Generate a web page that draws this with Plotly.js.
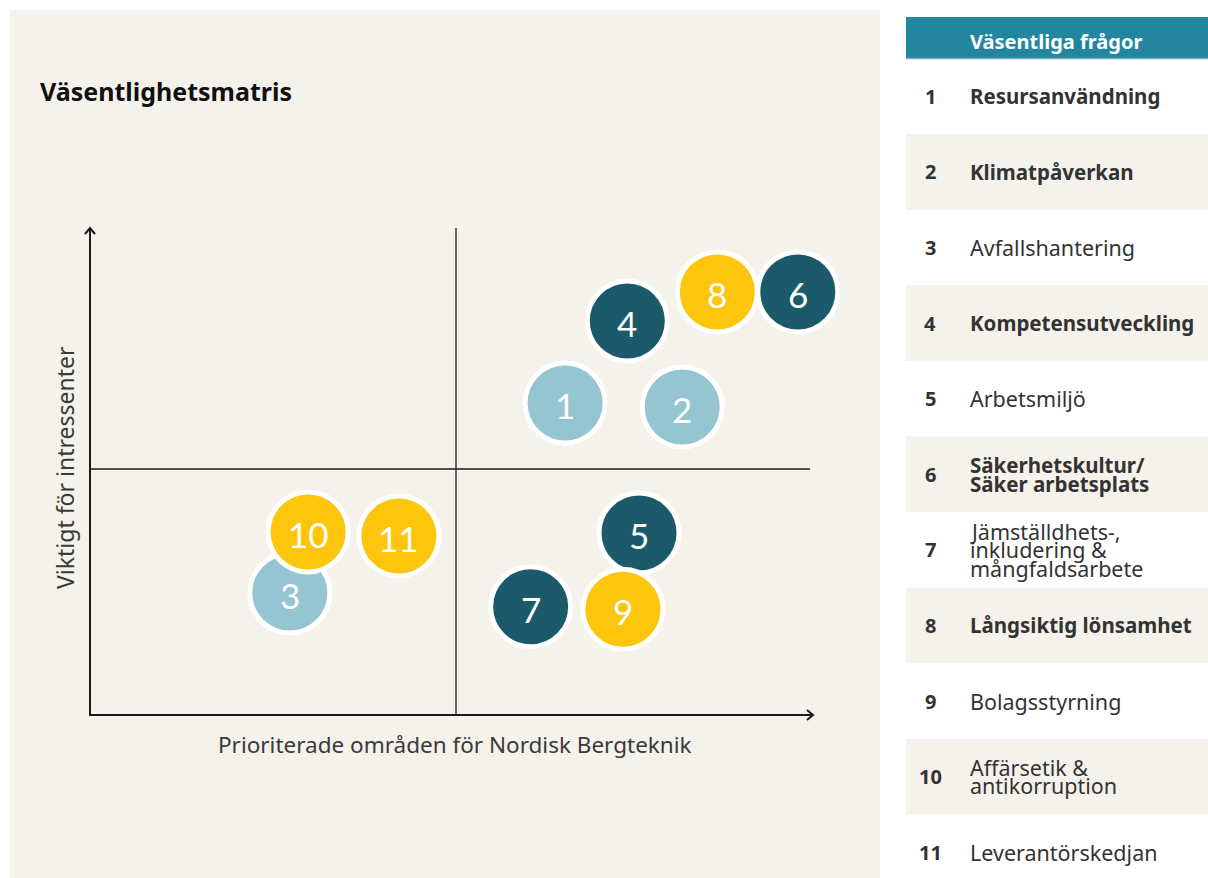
<!DOCTYPE html>
<html>
<head>
<meta charset="utf-8">
<script src="https://cdn.plot.ly/plotly-3.0.1.min.js"></script>
<style>
html,body{margin:0;padding:0;background:#fff;}
#chart{width:1208px;height:878px;}
</style>
</head>
<body>
<div id="chart"></div>
<script>
// ---- Data ----
const issueIds = ['1','2','3','4','5','6','7','8','9','10','11'];
const xValues = [6.49, 8.09, 2.73, 7.34, 7.50, 9.67, 6.02, 8.57, 7.28, 2.98, 4.22];
const yValues = [6.34, 6.26, 2.48, 8.01, 3.70, 8.60, 2.20, 8.60, 2.15, 3.72, 3.64];
const issueGroups = ['light','light','light','dark','dark','dark','dark','yellow','yellow','yellow','yellow'];

const tableNumbers = ['1','2','3','4','5','6','7','8','9','10','11'];
const tableLabels = [
  ['Resursanvändning'],
  ['Klimatpåverkan'],
  ['Avfallshantering'],
  ['Kompetensutveckling'],
  ['Arbetsmiljö'],
  ['Säkerhetskultur/','Säker arbetsplats'],
  ['Jämställdhets-,','inkludering &','mångfaldsarbete'],
  ['Långsiktig lönsamhet'],
  ['Bolagsstyrning'],
  ['Affärsetik &','antikorruption'],
  ['Leverantörskedjan']
];
const tableBold = [true,true,false,true,false,true,false,true,false,false,false];

const chartTitle = 'Väsentlighetsmatris';
const xTitle = 'Prioriterade områden för Nordisk Bergteknik';
const yTitle = 'Viktigt för intressenter';
const tableHeader = 'Väsentliga frågor';

// ---- Styles ----
const W = 1208, H = 878;
const groupColors = {light:'#94c5d1', dark:'#1c5a6b', yellow:'#fdc50c'};
const beige = '#f5f2ec';
const fx = p => p / W;          // pixel -> paper x
const fy = p => 1 - p / H;      // pixel -> paper y

// plot area in pixels
const PL = 90, PR = 822, PT = 223, PB = 715;

const traces = ['light','dark','yellow'].map(g => {
  const idx = issueIds.map((_, i) => i).filter(i => issueGroups[i] === g);
  return {
    type: 'scatter',
    mode: 'markers',
    x: idx.map(i => xValues[i]),
    y: idx.map(i => yValues[i]),
    marker: {size: 80, color: groupColors[g], line: {color: '#ffffff', width: 5}, opacity: 1},
    hoverinfo: 'skip',
    showlegend: false,
    cliponaxis: false
  };
});

const shapes = [];
const annotations = [];

// bubble labels (through the data axes)
issueIds.forEach((id, i) => {
  annotations.push({xref:'x', yref:'y', x:xValues[i], y:yValues[i], text:id, showarrow:false,
    xanchor:'center', yanchor:'middle', yshift:-2,
    font:{family:'Lato, sans-serif', size:35, color:'#ffffff'}});
});

// beige panel
shapes.push({type:'rect', xref:'paper', yref:'paper', x0:fx(10), x1:fx(880), y0:fy(10), y1:fy(878),
  fillcolor:beige, line:{width:0}, layer:'below'});

// axes lines and quadrant dividers
const lineStyle = {color:'#1a1a1a', width:2};
shapes.push({type:'line', xref:'paper', yref:'paper', x0:fx(90), x1:fx(90), y0:fy(715), y1:fy(229), line:lineStyle});
shapes.push({type:'line', xref:'paper', yref:'paper', x0:fx(89), x1:fx(812), y0:fy(715), y1:fy(715), line:lineStyle});
shapes.push({type:'line', xref:'x', yref:'paper', x0:5, x1:5, y0:fy(715), y1:fy(228), line:{color:'#1a1a1a', width:1.3}, layer:'below'});
shapes.push({type:'line', xref:'paper', yref:'y', x0:fx(90), x1:fx(810), y0:5, y1:5, line:{color:'#1a1a1a', width:1.3}, layer:'below'});
// arrow heads
shapes.push({type:'path', xref:'paper', yref:'paper',
  path:`M ${fx(85)},${fy(234)} L ${fx(90)},${fy(228)} L ${fx(95)},${fy(234)}`, line:lineStyle});
shapes.push({type:'path', xref:'paper', yref:'paper',
  path:`M ${fx(807)},${fy(710)} L ${fx(813)},${fy(715)} L ${fx(807)},${fy(720)}`, line:lineStyle});

// title
annotations.push({xref:'paper', yref:'paper', x:fx(38), y:fy(91), xanchor:'left', yanchor:'middle',
  text:'<b>'+chartTitle+'</b>', showarrow:false, font:{family:'Noto Sans, sans-serif', size:25, color:'#111'}});
// axis titles
annotations.push({xref:'paper', yref:'paper', x:fx(455), y:fy(744), xanchor:'center', yanchor:'middle',
  text:xTitle, showarrow:false, font:{family:'Noto Sans, sans-serif', size:22.5, color:'#3a3a3a'}});
annotations.push({xref:'paper', yref:'paper', x:fx(65), y:fy(468), xanchor:'center', yanchor:'middle',
  text:yTitle, textangle:-90, showarrow:false, font:{family:'Noto Sans, sans-serif', size:23, color:'#3a3a3a'}});

// table header
shapes.push({type:'rect', xref:'paper', yref:'paper', x0:fx(906), x1:fx(1208), y0:fy(17), y1:fy(58),
  fillcolor:'#23869e', line:{width:0}, layer:'below'});
shapes.push({type:'line', xref:'paper', yref:'paper', x0:fx(906), x1:fx(1208), y0:fy(58.5), y1:fy(58.5),
  line:{color:'#6fb1c2', width:1.5}});
annotations.push({xref:'paper', yref:'paper', x:fx(968), y:fy(42), xanchor:'left', yanchor:'middle',
  text:'<b>'+tableHeader+'</b>', showarrow:false, font:{family:'Noto Sans, sans-serif', size:20, color:'#ffffff'}});

// table rows
const rowTop = 58.5, rowH = 75.6, lineGap = 18.5;
tableNumbers.forEach((n, i) => {
  const top = rowTop + i * rowH;
  const cy = top + rowH / 2;
  if (i % 2 === 1) {
    shapes.push({type:'rect', xref:'paper', yref:'paper', x0:fx(906), x1:fx(1208), y0:fy(top), y1:fy(top+rowH),
      fillcolor:beige, line:{width:0}, layer:'below'});
  }
  annotations.push({xref:'paper', yref:'paper', x:fx(930), y:fy(cy), xanchor:'center', yanchor:'middle',
    text:'<b>'+n+'</b>', showarrow:false, font:{family:'Noto Sans, sans-serif', size:20, color:'#333'}});
  const lines = tableLabels[i];
  lines.forEach((t, k) => {
    const ly = cy + (k - (lines.length - 1) / 2) * lineGap;
    annotations.push({xref:'paper', yref:'paper', x:fx(968), y:fy(ly), xanchor:'left', yanchor:'middle',
      text: tableBold[i] ? '<b>'+t+'</b>' : t, showarrow:false,
      font:{family:'Noto Sans, sans-serif', size: tableBold[i] ? 20.5 : 21.5, color:'#333'}});
  });
});

const layout = {
  width: W, height: H,
  margin: {l:0, r:0, t:0, b:0},
  paper_bgcolor: '#ffffff',
  plot_bgcolor: 'rgba(0,0,0,0)',
  xaxis: {domain:[PL/W, PR/W], range:[0,10], showgrid:false, zeroline:false, showticklabels:false, ticks:'', showline:false, fixedrange:true},
  yaxis: {domain:[1-PB/H, 1-PT/H], range:[0,10], showgrid:false, zeroline:false, showticklabels:false, ticks:'', showline:false, fixedrange:true},
  shapes: shapes,
  annotations: annotations,
  showlegend: false
};

Plotly.newPlot('chart', traces, layout, {displayModeBar:false, staticPlot:true});
</script>
</body>
</html>
